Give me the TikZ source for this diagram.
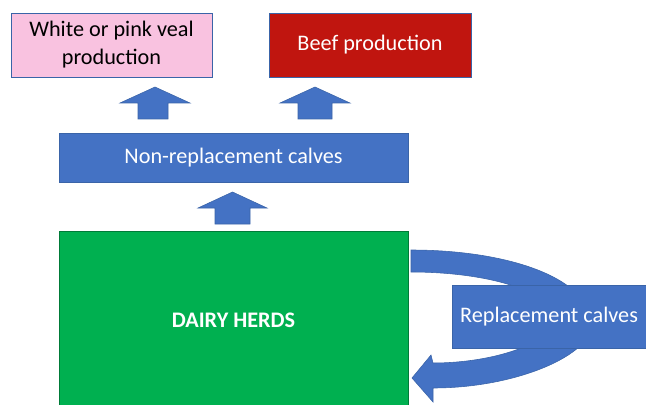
\documentclass[tikz,border=0pt]{standalone}
\usepackage{fontspec}
\setmainfont{Carlito}
\usepackage{xcolor}
\usepackage{tikz}
\definecolor{VealPink}{HTML}{F9C2E0}
\definecolor{BeefRed}{HTML}{C0150F}
\definecolor{CalfBlue}{HTML}{4472C4}
\definecolor{HerdGreen}{HTML}{00B050}
\definecolor{EdgeBlue}{HTML}{3A64A8}

\begin{document}
\begin{tikzpicture}[x=1cm,y=1cm,
  box/.style={draw=EdgeBlue,line width=0.5pt,inner sep=2pt,align=center,font=\fontsize{15.8}{20}\selectfont}]
\path[use as bounding box] (0,0) rectangle (16.15,10.10);
% top row
\node[box,fill=VealPink,text=black,minimum width=5.025cm,minimum height=1.6cm] (veal) at (2.7875,8.975) {White or pink veal\\production};
\node[box,fill=BeefRed,text=white,minimum width=5.05cm,minimum height=1.6cm] (beef) at (9.25,8.975) {Beef production};
% up arrows
\fill[CalfBlue,draw=EdgeBlue,line width=0.4pt] (3.45,7.125) -- (4.2,7.125) -- (4.2,7.525) -- (4.75,7.525) -- (3.875,7.925) -- (3.0,7.525) -- (3.45,7.525) -- cycle;
\fill[CalfBlue,draw=EdgeBlue,line width=0.4pt] (7.45,7.125) -- (8.3,7.125) -- (8.3,7.525) -- (8.75,7.525) -- (7.875,7.925) -- (7.0,7.525) -- (7.45,7.525) -- cycle;
\node[box,fill=CalfBlue,text=white,minimum width=8.725cm,minimum height=1.225cm] (nonrepl) at (5.8375,6.1625) {Non-replacement calves};
\fill[CalfBlue,draw=EdgeBlue,line width=0.4pt] (5.375,4.5) -- (6.25,4.5) -- (6.25,4.9) -- (6.675,4.9) -- (5.8125,5.3) -- (4.95,4.9) -- (5.375,4.9) -- cycle;
% loop back to the herds
\fill[CalfBlue,draw=EdgeBlue,line width=0.4pt] (10.275,3.85) .. controls (12.4,3.85) and (14.5,3.3) .. (14.8,2.15)
  .. controls (15.0,1.3) and (13.0,0.40) .. (10.825,0.40) -- (10.825,0.05) -- (10.3,0.65) -- (10.775,1.225) -- (10.825,1.025)
  .. controls (12.3,1.025) and (13.8,1.5) .. (13.9,2.15) .. controls (13.7,2.9) and (12.0,3.3) .. (10.275,3.3) -- cycle;
\node[box,fill=HerdGreen,draw=HerdGreen!70!black,text=white,font=\fontsize{15.8}{20}\selectfont\bfseries,minimum width=8.725cm,minimum height=4.475cm] (herds) at (5.8375,2.0875) {DAIRY HERDS};
\node[box,fill=CalfBlue,text=white,minimum width=4.85cm,minimum height=1.575cm] (repl) at (13.725,2.1875) {Replacement calves};
\end{tikzpicture}
\end{document}
